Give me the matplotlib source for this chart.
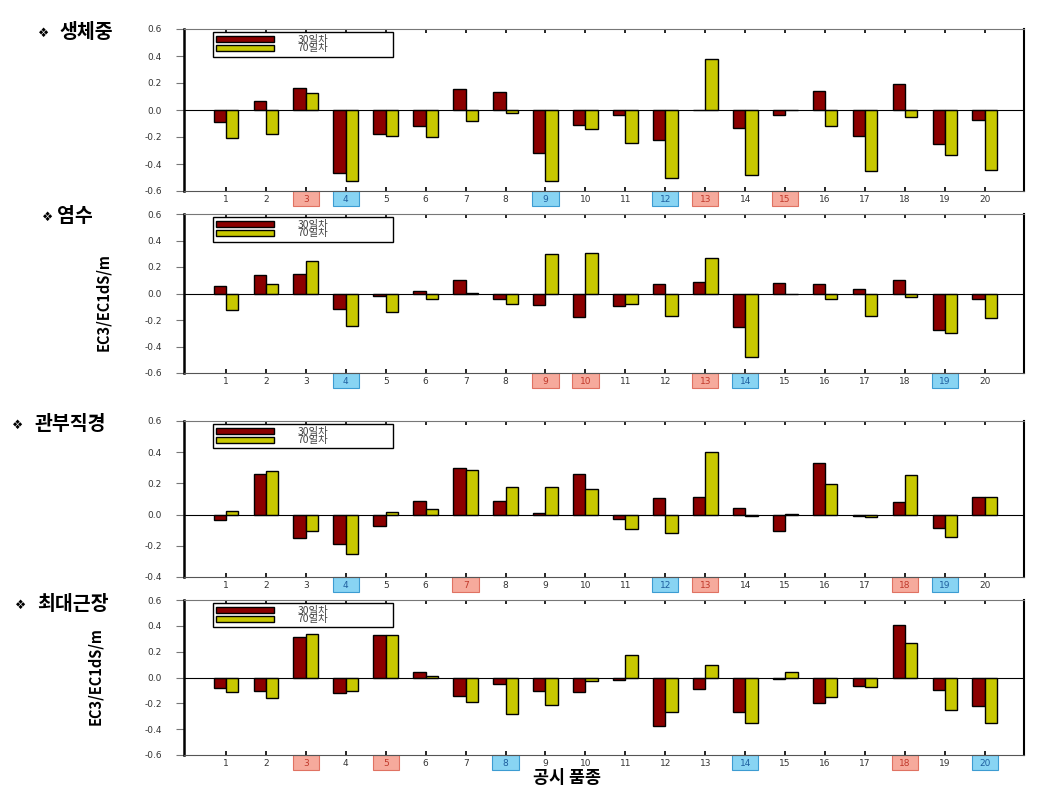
import numpy as np
import matplotlib
matplotlib.use('Agg')
import matplotlib.pyplot as plt
from matplotlib.patches import Rectangle

#===================================================================================
#                           data
#===================================================================================
cultivars = np.arange(1, 21)
series_labels = ['30일차', '70일차']

titles = ['생체중', '염수', '관부직경', '최대근장']

# panel 1 : 생체중
fw_30 = [-0.09, 0.065, 0.165, -0.47, -0.175, -0.12, 0.155, 0.135, -0.32, -0.11,
         -0.04, -0.225, 0.0, -0.13, -0.04, 0.14, -0.19, 0.19, -0.25, -0.075]
fw_70 = [-0.21, -0.18, 0.125, -0.525, -0.19, -0.2, -0.085, -0.02, -0.525, -0.14,
         -0.245, -0.505, 0.38, -0.48, 0.0, -0.115, -0.45, -0.05, -0.335, -0.445]
# panel 2 : 염수
sw_30 = [0.056, 0.14, 0.145, -0.116, -0.018, 0.02, 0.10, -0.043, -0.089, -0.18,
         -0.096, 0.068, 0.089, -0.253, 0.076, 0.068, 0.035, 0.099, -0.273, -0.043]
sw_70 = [-0.127, 0.068, 0.248, -0.243, -0.139, -0.043, 0.005, -0.081, 0.30, 0.306,
         -0.076, -0.172, 0.266, -0.476, 0.0, -0.038, -0.172, -0.025, -0.299, -0.182]
# panel 3 : 관부직경
cd_30 = [-0.034, 0.26, -0.149, -0.187, -0.07, 0.087, 0.298, 0.087, 0.01, 0.26,
         -0.03, 0.109, 0.113, 0.04, -0.104, 0.328, -0.009, 0.079, -0.085, 0.111]
cd_70 = [0.023, 0.277, -0.104, -0.253, 0.015, 0.036, 0.289, 0.174, 0.174, 0.162,
         -0.094, -0.121, 0.402, -0.009, 0.006, 0.194, -0.017, 0.257, -0.143, 0.111]
# panel 4 : 최대근장
rl_30 = [-0.085, -0.103, 0.31, -0.123, 0.33, 0.046, -0.146, -0.049, -0.103, -0.11,
         -0.018, -0.372, -0.087, -0.269, -0.013, -0.2, -0.062, 0.403, -0.095, -0.22]
rl_70 = [-0.115, -0.16, 0.336, -0.103, 0.33, 0.013, -0.192, -0.282, -0.213, -0.026,
         0.174, -0.269, 0.097, -0.354, 0.046, -0.151, -0.077, 0.264, -0.254, -0.351]

ylims = [(-0.6, 0.6), (-0.6, 0.6), (-0.4, 0.6), (-0.6, 0.6)]

# highlighted cultivar numbers (red = tolerant, blue = sensitive)
red_marks = [[3, 13, 15], [9, 10, 13], [7, 13, 18], [3, 5, 18]]
blue_marks = [[4, 9, 12], [4, 14, 19], [4, 12, 19], [8, 14, 20]]

#===================================================================================
#                           layout parameters
#===================================================================================
W, H = 1041, 794
c30, c70 = '#8B0000', '#C8C800'
red_face, red_edge = '#F6AA9C', '#E07262'
blue_face, blue_edge = '#88D4F3', '#3C9CD2'

# axes [left, bottom, width, height] in figure fraction
ax_rects = [[184/W, 1-191/H, 840/W, 162/H],
            [184/W, 1-373/H, 840/W, 159/H],
            [184/W, 1-577/H, 840/W, 156/H],
            [184/W, 1-755/H, 840/W, 155/H]]
# (symbol centre x, text left x, y) in pixels
title_pos = [(44, 59, 33), (48, 57, 217), (18, 34, 425), (21, 37, 605)]

data = [(fw_30, fw_70), (sw_30, sw_70), (cd_30, cd_70), (rl_30, rl_70)]

kfont = ['Noto Sans CJK KR', 'DejaVu Sans']

#===================================================================================
#                              plots
#===================================================================================
fig = plt.figure(figsize=(W/100, H/100), dpi=100)
bw = 0.31
for i in range(4):
    ax = fig.add_axes(ax_rects[i])
    a30, a70 = data[i]
    ax.bar(cultivars - bw/2, a30, bw, color=c30, edgecolor='k', lw=1.0, label=series_labels[0])
    ax.bar(cultivars + bw/2, a70, bw, color=c70, edgecolor='k', lw=1.0, label=series_labels[1])
    ax.axhline(0, color='k', lw=0.8, zorder=2)
    ax.set_xlim(-0.05, 20.98)
    ax.set_ylim(ylims[i])
    ax.set_yticks(np.arange(ylims[i][0], ylims[i][1] + 0.01, 0.2))
    ax.set_yticklabels(['%.1f' % v for v in ax.get_yticks()])
    ax.set_xticks(cultivars)
    ax.set_xticklabels([str(c) for c in cultivars])
    ax.tick_params(axis='x', direction='in', top=True, length=3, width=1.2,
                   pad=3.0, labelsize=6.5, labelcolor='#333333')
    ax.tick_params(axis='y', direction='out', length=6, width=0.8, color='#777777',
                   pad=10, labelsize=6.5, labelcolor='#333333')
    ax.spines['left'].set_linewidth(1.8)
    ax.spines['right'].set_linewidth(1.5)
    ax.spines['top'].set_color('#777777')
    ax.spines['top'].set_linewidth(0.8)
    ax.spines['bottom'].set_color('#555555')
    ax.spines['bottom'].set_linewidth(0.8)

    # coloured boxes behind highlighted tick labels
    box_h = 15. / (ax_rects[i][3] * H)
    trans = ax.get_xaxis_transform()
    for nums, fc, ec, tc in [(red_marks[i], red_face, red_edge, '#C0392B'),
                             (blue_marks[i], blue_face, blue_edge, '#1F5F9F')]:
        for n in nums:
            ax.add_patch(Rectangle((n - 0.33, -box_h), 0.66, box_h, transform=trans,
                                   facecolor=fc, edgecolor=ec, lw=0.8, clip_on=False, zorder=1))
            ax.get_xticklabels()[n - 1].set_color(tc)

    leg_h = 25. / (ax_rects[i][3] * H)
    leg = ax.legend(loc='upper left', bbox_to_anchor=(0.0345, 0.982 - leg_h, 0.2143, leg_h),
                    mode='expand', borderaxespad=0,
                    prop={'family': kfont, 'size': 7.5}, labelspacing=-0.15,
                    handlelength=5.6, handleheight=0.5, handletextpad=2.2,
                    borderpad=0.3, fancybox=False, framealpha=1)
    leg.get_frame().set_edgecolor('k')
    leg.get_frame().set_linewidth(1.0)
    for t in leg.get_texts():
        t.set_color('#444444')

    sx, tx, ty = title_pos[i]
    fig.text(sx/W, 1 - ty/H, '❖', ha='center', va='center',
             family=['DejaVu Sans'], fontsize=9)
    fig.text(tx/W, 1 - ty/H, titles[i], ha='left', va='center',
             family=kfont, fontsize=14, fontweight='bold')

# y labels and x label
for (lx, ly) in [(103, 302), (95, 676)]:
    fig.text(lx/W, 1 - ly/H, 'EC3/EC1dS/m', rotation=90, ha='center', va='center',
             family=kfont, fontsize=10.5, fontweight='bold')
fig.text(567/W, 1 - 778/H, '공시 품종', ha='center', va='center',
         family=kfont, fontsize=12.5, fontweight='bold')

fig.savefig('out.png', dpi=100)
